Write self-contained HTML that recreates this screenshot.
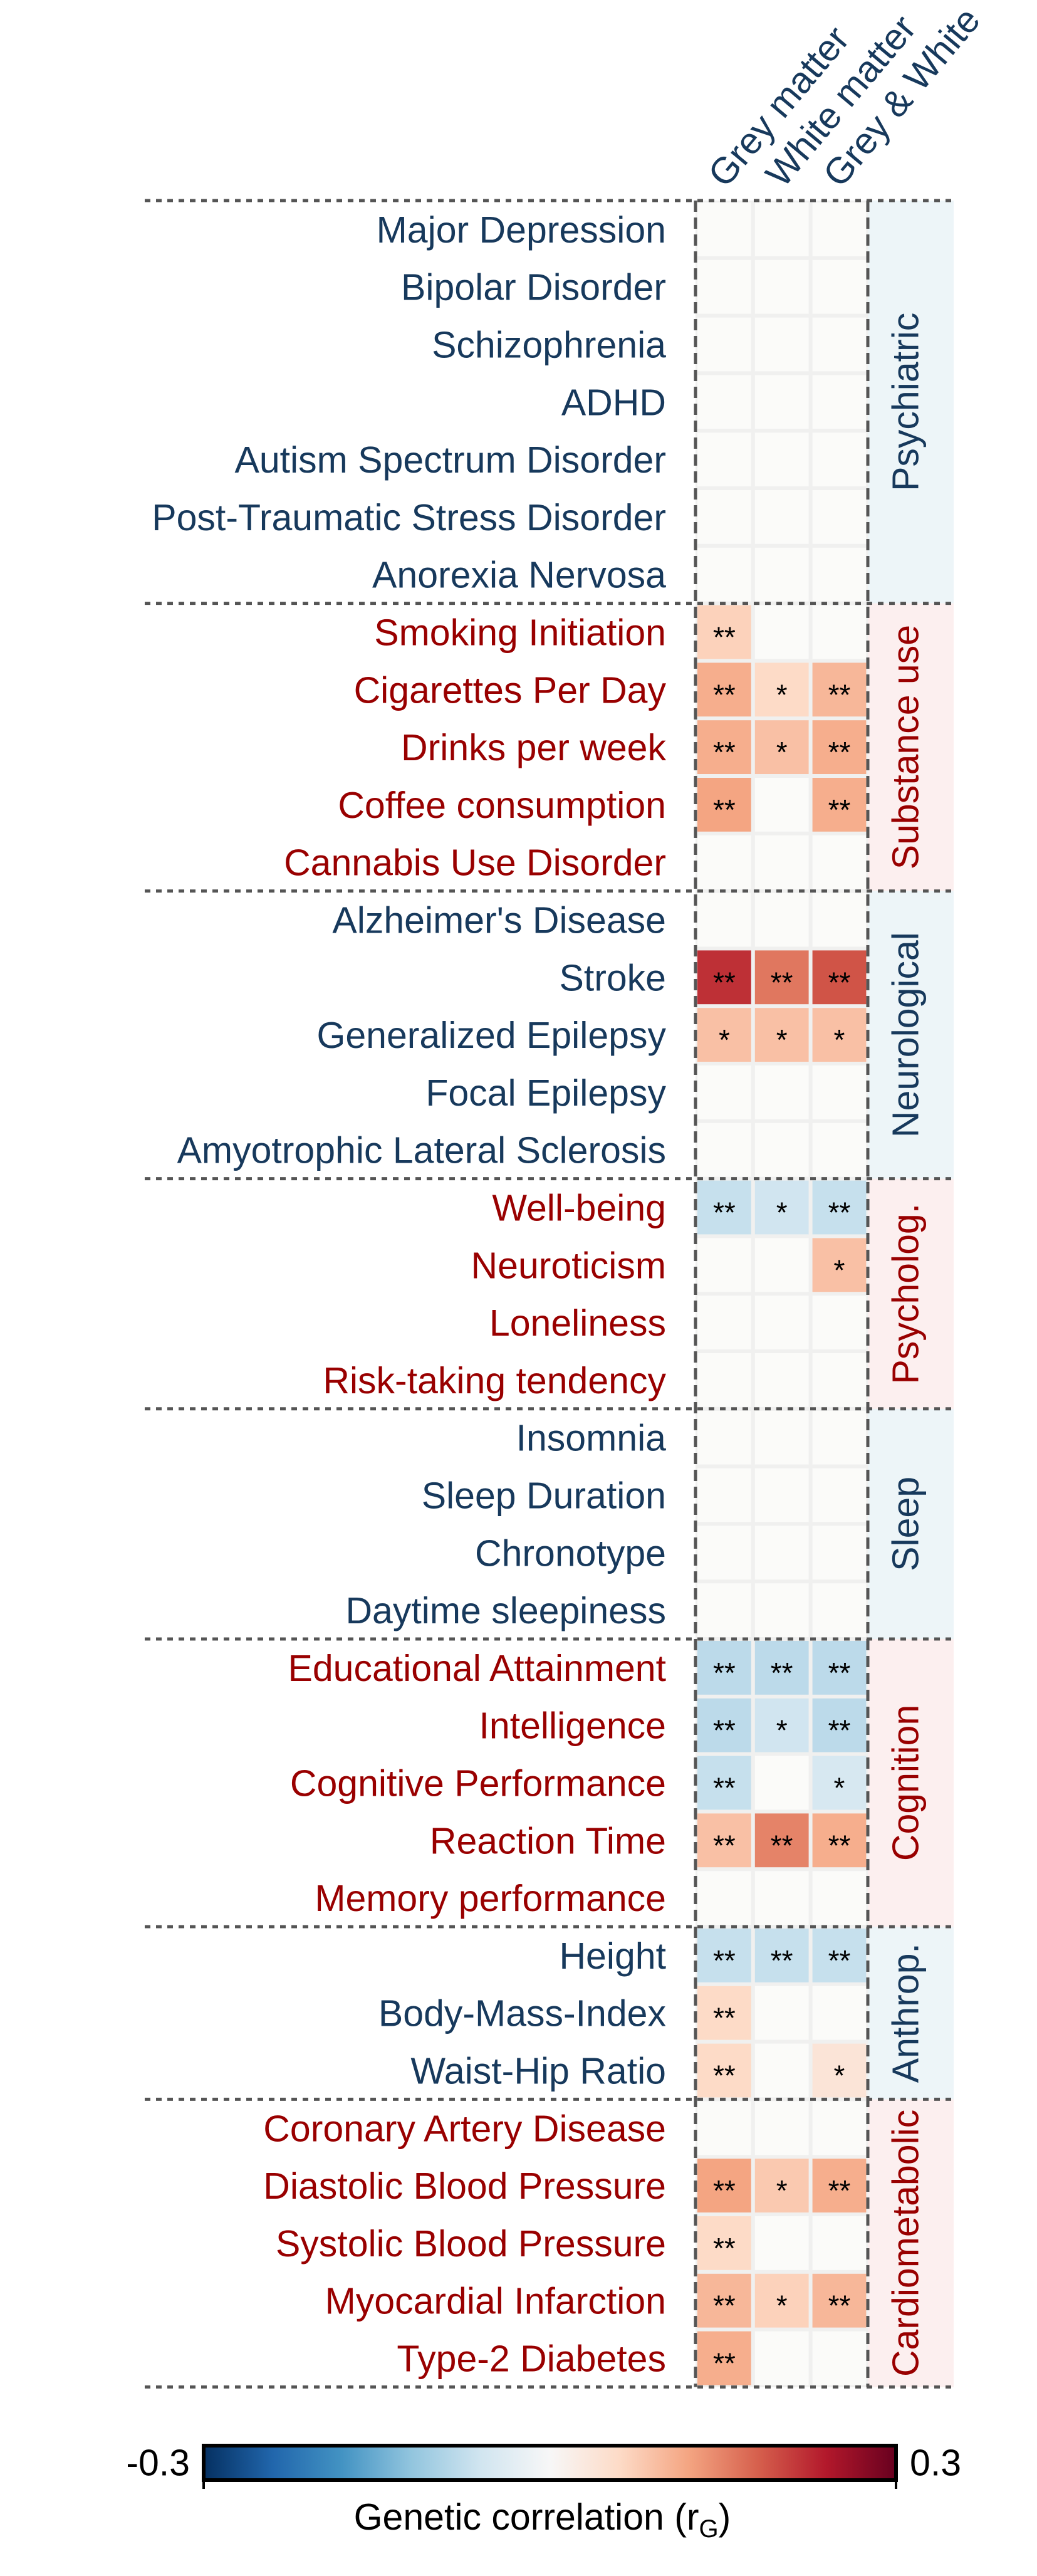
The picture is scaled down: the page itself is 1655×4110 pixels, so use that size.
<!DOCTYPE html>
<html><head><meta charset="utf-8"><style>
html,body{margin:0;padding:0;background:#fff}
svg{display:block;font-family:"Liberation Sans",sans-serif}
</style></head><body>
<svg id="c" width="1655" height="4110" xmlns="http://www.w3.org/2000/svg"></svg>
<script>
const traits=["Major Depression","Bipolar Disorder","Schizophrenia","ADHD","Autism Spectrum Disorder","Post-Traumatic Stress Disorder","Anorexia Nervosa","Smoking Initiation","Cigarettes Per Day","Drinks per week","Coffee consumption","Cannabis Use Disorder","Alzheimer's Disease","Stroke","Generalized Epilepsy","Focal Epilepsy","Amyotrophic Lateral Sclerosis","Well-being","Neuroticism","Loneliness","Risk-taking tendency","Insomnia","Sleep Duration","Chronotype","Daytime sleepiness","Educational Attainment","Intelligence","Cognitive Performance","Reaction Time","Memory performance","Height","Body-Mass-Index","Waist-Hip Ratio","Coronary Artery Disease","Diastolic Blood Pressure","Systolic Blood Pressure","Myocardial Infarction","Type-2 Diabetes"];
const columns=["Grey matter","White matter","Grey & White"];
const groups=["Psychiatric","Substance use","Neurological","Psycholog.","Sleep","Cognition","Anthrop.","Cardiometabolic"];
const groupSizes=[7,5,5,4,4,5,3,5];
const greyVals=[null,null,null,null,null,null,null,0.07,0.11,0.11,0.12,null,null,0.22,0.09,null,null,-0.07,null,null,null,null,null,null,null,-0.08,-0.08,-0.07,0.09,null,-0.07,0.06,0.06,null,0.12,0.06,0.10,0.11];
const whiteVals=[null,null,null,null,null,null,null,null,0.06,0.09,null,null,null,0.16,0.09,null,null,-0.06,null,null,null,null,null,null,null,-0.08,-0.06,null,0.15,null,-0.07,null,null,null,0.08,null,0.07,null];
const bothVals=[null,null,null,null,null,null,null,null,0.10,0.11,0.11,null,null,0.19,0.09,null,null,-0.07,0.09,null,null,null,null,null,null,-0.08,-0.08,-0.05,0.11,null,-0.07,null,0.04,null,0.11,null,0.10,null];
const greyStars=["","","","","","","","**","**","**","**","","","**","*","","","**","","","","","","","","**","**","**","**","","**","**","**","","**","**","**","**"];
const whiteStars=["","","","","","","","","*","*","","","","**","*","","","*","","","","","","","","**","*","","**","","**","","","","*","","*",""];
const bothStars=["","","","","","","","","**","**","**","","","**","*","","","**","*","","","","","","","**","**","*","**","","**","","*","","**","","**",""];
const cbTicks=["-0.3","0.3"];

const NS="http://www.w3.org/2000/svg";
const svg=document.getElementById('c');
function el(t,a,txt){const e=document.createElementNS(NS,t);for(const k in a)e.setAttribute(k,a[k]);if(txt!==undefined)e.textContent=txt;svg.appendChild(e);return e;}
const top0=320,rowH=91.8,x0=1110,colW=91.8,lblX=1063,bandX=1385,bandW=137,dashL=231,dashR=1522,FS=59;
const vmin=-0.3,vmax=0.3;
const y=i=>top0+i*rowH;
const x=j=>x0+j*colW;
const stops=["#053061","#2166ac","#4393c3","#92c5de","#d1e5f0","#f7f7f7","#fddbc7","#f4a582","#d6604d","#b2182b","#67001f"];
function hex(h){return [1,3,5].map(i=>parseInt(h.substr(i,2),16));}
function cmap(v){let t=(v-vmin)/(vmax-vmin);t=Math.max(0,Math.min(1,t))*(stops.length-1);const i=Math.min(stops.length-2,Math.floor(t)),f=t-i;const a=hex(stops[i]),b=hex(stops[i+1]);return "rgb("+a.map((c,k)=>Math.round(c+(b[k]-c)*f)).join(",")+")";}
const blue="#17395c",red="#990000";
let gi=0;
groups.forEach((g,k)=>{
  const s=gi,n=groupSizes[k];gi+=n;
  const col=k%2===0?blue:red;
  const r=el('rect',{x:bandX,y:y(s),width:bandW,height:n*rowH,fill:k%2===0?"#edf5f8":"#fcefef"});
  
  
  const cy=y(s)+n*rowH/2,cx=bandX+bandW/2-8;
  const t=el('text',{x:cx,y:cy,'font-size':FS,fill:col,'text-anchor':'middle','dominant-baseline':'central',transform:`rotate(-90 ${cx} ${cy})`},g);
  
  
  for(let i=s;i<s+n;i++){
    const l=el('text',{x:lblX,y:y(i)+rowH/2+21,'font-size':FS,fill:col,'text-anchor':'end'},traits[i]);
    
    
  }
});
const vals=[greyVals,whiteVals,bothVals],stars=[greyStars,whiteStars,bothStars];
el('rect',{x:x(0),y:y(0),width:3*colW,height:traits.length*rowH,fill:"#f0f0ef"});
for(let j=0;j<3;j++)for(let i=0;i<traits.length;i++){
  const v=vals[j][i];
  const r=el('rect',{x:x(j)+3,y:y(i)+3,width:colW-6,height:rowH-6,fill:v===null?"#fbfbf9":cmap(v)});
  
  
  if(stars[j][i]){
    const t=el('text',{x:x(j)+colW/2,y:y(i)+rowH/2+24,'font-size':46,fill:"#000",'text-anchor':'middle'},stars[j][i]);
    
    
  }
}
columns.forEach((c,j)=>{
  const cx=x(j)+colW/2+2,cy=y(0)-18;
  const t=el('text',{x:cx,y:cy,'font-size':FS,fill:blue,'text-anchor':'start',transform:`rotate(-50 ${cx} ${cy})`},c);
  
  
});
gi=0;
const bounds=[0];groupSizes.forEach(n=>{gi+=n;bounds.push(gi);});
bounds.forEach(b=>{
  const l=el('line',{x1:dashL,x2:dashR,y1:y(b),y2:y(b),stroke:"#555",'stroke-width':5,'stroke-dasharray':"9 9"});
  
  
});
[x(0),bandX].forEach(xx=>{
  const l=el('line',{x1:xx,x2:xx,y1:y(0),y2:y(traits.length),stroke:"#555",'stroke-width':5,'stroke-dasharray':"18 9"});
  
  
});
const defs=el('defs',{});
const lg=document.createElementNS(NS,'linearGradient');lg.setAttribute('id','g');defs.appendChild(lg);
stops.forEach((s,i)=>{const st=document.createElementNS(NS,'stop');st.setAttribute('offset',(i/(stops.length-1)*100)+'%');st.setAttribute('stop-color',s);lg.appendChild(st);});
const cbx=325,cbw=1105,cby=3902,cbh=55;
const cb=el('rect',{x:cbx,y:cby,width:cbw,height:cbh,fill:"url(#g)",stroke:"#000",'stroke-width':6});


el('line',{x1:cbx,x2:cbx,y1:cby+cbh,y2:cby+cbh+14,stroke:"#000",'stroke-width':4});
el('line',{x1:cbx+cbw,x2:cbx+cbw,y1:cby+cbh,y2:cby+cbh+14,stroke:"#000",'stroke-width':4});
const t1=el('text',{x:cbx-22,y:cby+cbh/2+20,'font-size':FS,'text-anchor':'end',fill:"#000"},cbTicks[0]);


const t2=el('text',{x:cbx+cbw+22,y:cby+cbh/2+20,'font-size':FS,'text-anchor':'start',fill:"#000"},cbTicks[1]);


const tt=el('text',{x:cbx+cbw/2-12,y:4036,'font-size':FS,'text-anchor':'middle',fill:"#000"});


tt.innerHTML='Genetic correlation (r<tspan font-size="40" dy="12">G</tspan><tspan dy="-12">)</tspan>';
</script>
</body></html>
